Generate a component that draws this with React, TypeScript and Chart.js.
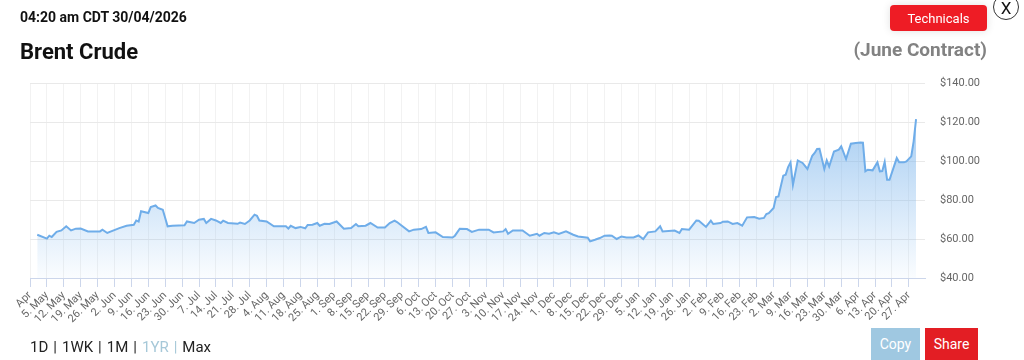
import React, { useEffect, useRef } from "react";
import { Chart, registerables } from "chart.js";
Chart.register(...registerables);

// days since Mon 28 Apr 2025
const dayOffsets = [
  3, 7, 8, 9, 11, 13, 15, 17, 19, 21, 24, 29, 30, 32, 37, 40, 43, 44, 45, 46,
  49, 50, 52, 53, 55, 56, 57, 59, 64, 65, 68, 70, 72, 73, 75, 77, 79, 80, 82, 86,
  87, 89, 91, 93, 94, 95, 98, 101, 106, 107, 108, 110, 112, 114, 115, 117, 119, 120, 122, 124,
  127, 130, 133, 135, 136, 139, 141, 144, 147, 149, 151, 152, 157, 159, 162, 164, 165, 168, 171, 175,
  176, 178, 181, 183, 186, 190, 192, 196, 197, 198, 200, 204, 207, 210, 211, 213, 215, 217, 219, 222,
  225, 227, 231, 232, 234, 236, 238, 240, 241, 243, 245, 247, 250, 252, 254, 256, 259, 261, 262, 267,
  269, 270, 273, 276, 277, 280, 282, 283, 286, 287, 289, 291, 293, 295, 297, 300, 302, 304, 305, 306,
  308, 309, 310, 312, 313, 314, 315, 316, 318, 320, 322, 324, 325, 326, 327, 329, 330, 331, 333, 335,
  336, 338, 340, 342, 344, 345, 346, 347, 349, 351, 352, 353, 354, 355, 356, 359, 360, 362, 363, 365,
  366, 367,
];

const prices = [
  62.2, 60.2, 61.7, 61.0, 63.7, 64.4, 66.5, 64.4, 65.3, 65.4, 63.9, 63.9, 64.8, 63.1, 65.6, 66.8, 67.3, 69.5, 68.9, 74.2,
  73.3, 76.4, 77.2, 75.9, 75.0, 70.8, 66.5, 66.8, 67.0, 69.0, 68.2, 69.9, 70.3, 68.2, 70.3, 69.5, 68.2, 69.4, 68.2, 67.8,
  68.4, 67.7, 69.5, 72.5, 71.9, 69.5, 69.0, 66.5, 66.5, 65.4, 66.8, 65.6, 66.2, 65.5, 67.2, 67.3, 68.2, 66.8, 67.8, 67.7,
  69.0, 65.3, 65.6, 67.7, 66.5, 66.8, 68.2, 65.9, 65.9, 68.2, 69.4, 68.7, 63.9, 64.8, 65.1, 66.2, 63.1, 63.4, 61.0, 60.8,
  61.7, 65.3, 65.1, 63.6, 64.8, 64.8, 63.4, 63.9, 65.1, 62.7, 64.4, 64.4, 61.7, 62.7, 61.7, 63.1, 62.7, 63.4, 62.6, 63.9,
  62.2, 61.3, 60.7, 58.8, 59.6, 60.5, 61.7, 61.8, 61.7, 60.0, 61.3, 60.8, 60.8, 61.8, 60.0, 63.4, 63.9, 66.5, 63.9, 64.3,
  63.1, 65.1, 64.8, 69.5, 69.4, 66.2, 69.4, 67.7, 68.2, 68.9, 69.0, 67.7, 68.2, 66.8, 71.1, 71.3, 70.4, 70.8, 72.8, 73.3,
  75.9, 81.5, 81.8, 92.5, 93.0, 96.9, 99.3, 87.8, 100.3, 99.0, 95.9, 102.7, 104.1, 106.2, 106.3, 95.9, 100.3, 97.2, 104.9, 105.8,
  107.5, 101.0, 108.9, 109.2, 109.5, 109.4, 94.7, 95.5, 95.2, 99.3, 94.7, 94.8, 99.5, 90.4, 90.4, 101.5, 99.3, 99.3, 99.8, 102.4,
  110.1, 121.5,
];

const tickDays = [
  0, 7, 14, 21, 28, 35, 42, 49, 56, 63, 70, 77, 84, 91, 98, 105, 112, 119, 126, 133,
  140, 147, 154, 161, 168, 175, 182, 189, 196, 203, 210, 217, 224, 231, 238, 245, 252, 259, 266, 273,
  280, 287, 294, 301, 308, 315, 322, 329, 336, 343, 350, 357, 364,
];

const tickLabels = [
  "Apr", "5. May", "12. May", "19. May", "26. May", "2. Jun", "9. Jun", "16. Jun", "23. Jun", "30. Jun",
  "7. Jul", "14. Jul", "21. Jul", "28. Jul", "4. Aug", "11. Aug", "18. Aug", "25. Aug", "1. Sep", "8. Sep",
  "15. Sep", "22. Sep", "29. Sep", "6. Oct", "13. Oct", "20. Oct", "27. Oct", "3. Nov", "10. Nov", "17. Nov",
  "24. Nov", "1. Dec", "8. Dec", "15. Dec", "22. Dec", "29. Dec", "5. Jan", "12. Jan", "19. Jan", "26. Jan",
  "2. Feb", "9. Feb", "16. Feb", "23. Feb", "2. Mar", "9. Mar", "16. Mar", "23. Mar", "30. Mar", "6. Apr",
  "13. Apr", "20. Apr", "27. Apr",
];

const rangeOptions = ["1D", "1WK", "1M", "1YR", "Max"];
const activeRange = "1YR";

const yMin = 40;
const yMax = 140;
const yStep = 20;

const FONT = "Roboto, 'Noto Sans', Arial, sans-serif";

export default function App() {
  const canvasRef = useRef<HTMLCanvasElement | null>(null);

  useEffect(() => {
    const canvas = canvasRef.current;
    if (!canvas) return;
    const chart = new Chart(canvas, {
      type: "line",
      data: {
        datasets: [
          {
            data: dayOffsets.map((d, i) => ({ x: d, y: prices[i] })),
            borderColor: "#6fade9",
            borderWidth: 2,
            pointRadius: 0,
            tension: 0,
            fill: "start",
            backgroundColor: (ctx: any) => {
              const { chart } = ctx;
              const area = chart.chartArea;
              if (!area) return "rgba(124,181,236,0.3)";
              const g = chart.ctx.createLinearGradient(0, area.top, 0, area.bottom);
              g.addColorStop(0, "rgba(124,181,236,0.8)");
              g.addColorStop(1, "rgba(124,181,236,0.04)");
              return g;
            },
          },
        ],
      },
      options: {
        animation: false,
        responsive: false,
        maintainAspectRatio: false,
        layout: { padding: { left: 30, top: 83, right: 0, bottom: 0 } },
        plugins: { legend: { display: false }, tooltip: { enabled: false } },
        scales: {
          x: {
            type: "linear",
            min: 0,
            max: 370.7,
            afterBuildTicks: (s: any) => {
              s.ticks = tickDays.map((v) => ({ value: v }));
            },
            afterFit: (s: any) => {
              s.height = 82;
            },
            ticks: {
              autoSkip: false,
              maxRotation: 45,
              minRotation: 45,
              padding: 2,
              color: "#666666",
              font: { family: FONT, size: 11 },
              callback: (_v: any, i: number) => tickLabels[i],
            },
            grid: {
              color: "#f2f2f2",
              tickColor: "#ccd6eb",
              tickLength: 9,
              drawTicks: true,
            },
            border: { color: "#ccd6eb", width: 1 },
          },
          y: {
            position: "right",
            min: yMin,
            max: yMax,
            afterFit: (s: any) => {
              s.width = 99;
            },
            ticks: {
              stepSize: yStep,
              padding: 15,
              color: "#666666",
              font: { family: FONT, size: 11 },
              callback: (v: any) => "$" + Number(v).toFixed(2),
            },
            grid: { color: "#e9e9e9", drawTicks: false },
            border: { display: false },
          },
        },
      },
    });
    return () => chart.destroy();
  }, []);

  const abs = (o: React.CSSProperties): React.CSSProperties => ({
    position: "absolute",
    fontFamily: FONT,
    lineHeight: 1,
    whiteSpace: "nowrap",
    ...o,
  });

  return (
    <div
      style={{
        position: "absolute",
        left: 0,
        top: 0,
        width: 1024,
        height: 360,
        overflow: "hidden",
        background: "#ffffff",
      }}
    >
      <canvas
        ref={canvasRef}
        width={1024}
        height={360}
        style={{ position: "absolute", left: 0, top: 0, width: 1024, height: 360 }}
      />
      <div style={abs({ left: 20, top: 10, fontSize: 14, fontWeight: 700, color: "#111" })}>
        04:20 am CDT 30/04/2026
      </div>
      <div style={abs({ left: 20, top: 40.5, fontSize: 22, fontWeight: 700, color: "#111" })}>
        Brent Crude
      </div>
      <div style={abs({ right: 37, top: 40, fontSize: 19, fontWeight: 700, color: "#828282" })}>
        (June Contract)
      </div>
      <div
        style={abs({
          left: 890,
          top: 5,
          width: 97,
          height: 26,
          background: "#ee1c25",
          color: "#fff",
          borderRadius: 4,
          fontSize: 13,
          display: "flex",
          alignItems: "center",
          justifyContent: "center",
          boxShadow: "0 0 8px rgba(0,0,0,0.12)",
        })}
      >
        Technicals
      </div>
      <div
        style={abs({
          left: 993,
          top: -6,
          width: 26,
          height: 26,
          border: "1px solid #333",
          borderRadius: "50%",
          background: "#fff",
          color: "#111",
          fontSize: 17,
          display: "flex",
          alignItems: "center",
          justifyContent: "center",
          boxSizing: "border-box",
          paddingTop: 3,
        })}
      >
        X
      </div>
      <div style={abs({ left: 30, top: 339.7, fontSize: 15, color: "#222", display: "flex" })}>
        {rangeOptions.map((r, i) => {
          const active = r === activeRange;
          return (
            <span key={r} style={{ color: active ? "#a6c8d8" : "#222" }}>
              {r}
              {i < rangeOptions.length - 1 ? (
                <span style={{ margin: "0 5px 0 5px" }}>|</span>
              ) : null}
            </span>
          );
        })}
      </div>
      <div
        style={abs({
          left: 871,
          top: 328,
          width: 49,
          height: 34,
          background: "#9fc8e1",
          color: "#fff",
          fontSize: 14,
          display: "flex",
          alignItems: "center",
          justifyContent: "center",
          paddingBottom: 2,
          boxSizing: "border-box",
        })}
      >
        Copy
      </div>
      <div
        style={abs({
          left: 925,
          top: 328,
          width: 53,
          height: 34,
          background: "#e31e24",
          color: "#fff",
          fontSize: 14,
          display: "flex",
          alignItems: "center",
          justifyContent: "center",
          paddingBottom: 2,
          boxSizing: "border-box",
        })}
      >
        Share
      </div>
    </div>
  );
}
